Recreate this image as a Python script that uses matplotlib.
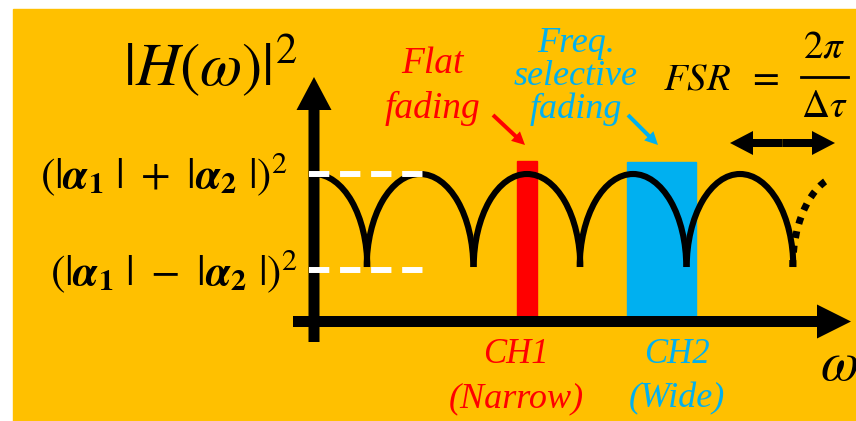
#Sketch of the two-path channel |H(w)|^2 with flat / freq. selective fading
import matplotlib.pyplot as plt
from matplotlib.patches import Rectangle, Arc, FancyArrow

plt.rcParams['mathtext.fontset'] = 'stix'

#Colours
ORANGE = '#FFC000'
RED = '#FF0000'
BLUE = '#00B0F0'

#Curve data (pixel units of the picture)
arch_centers = [420, 527, 633, 740]   # full arches of |H|^2
arch_period = 106.6
arch_base = 267                       # level of the notches, (|a1|-|a2|)^2
arch_height = 93                      # notch -> peak, (|a1|+|a2|)^2
first_center = 314                    # half arch leaving the y axis
dotted_center = 846                   # arch that goes on past the picture
level_max = 174
level_min = 270

#Channels
ch_names = ['CH1', 'CH2']
ch_notes = ['(Narrow)', '(Wide)']
ch_left = [517, 627]
ch_right = [537, 696]
ch_top = [161, 162]
ch_text_x = [516, 677]
ch_colors = [RED, BLUE]

#Labels
red_lines = ['Flat', 'fading']
red_base = [73, 118]
blue_lines = ['Freq.', 'selective', 'fading']
blue_base = [52, 85, 118]

fig = plt.figure(figsize=(8.56, 4.21), dpi=100)
ax = fig.add_axes([0, 0, 1, 1])
ax.set_xlim(0, 856)
ax.set_ylim(421, 0)
ax.axis('off')

ax.add_patch(Rectangle((13, 9), 843, 412, color=ORANGE, zorder=0))

#Channel bars
for l, r, t, c in zip(ch_left, ch_right, ch_top, ch_colors):
    ax.add_patch(Rectangle((l, t), r - l, 321 - t, color=c, zorder=1))

#Arches
lw_curve = 4.4
for c in arch_centers:
    ax.add_patch(Arc((c, arch_base), arch_period, 2 * arch_height, theta1=180, theta2=360,
                     lw=lw_curve, color='k', zorder=2))
ax.add_patch(Arc((first_center, arch_base), arch_period, 2 * arch_height, theta1=270, theta2=360,
                 lw=lw_curve, color='k', zorder=2))
ax.add_patch(Arc((dotted_center, arch_base), arch_period, 2 * arch_height, theta1=180, theta2=260,
                 lw=5, color='k', linestyle=(0, (1, 1.1)), zorder=2))

#Axes arrows
ax.add_patch(FancyArrow(314, 342, 0, 77 - 342, width=11, head_width=35, head_length=33,
                        length_includes_head=True, color='k', lw=0, zorder=3))
ax.add_patch(FancyArrow(293, 321.5, 851 - 293, 0, width=11, head_width=34, head_length=34,
                        length_includes_head=True, color='k', lw=0, zorder=3))

#White dashed levels
for yl in [level_max, level_min]:
    ax.plot([309, 430], [yl, yl], color='white', lw=4.3, linestyle=(0, (3.4, 1.8)), zorder=4)

#Level labels
ax.text(288, 188, r'$(|\mathbfit{\alpha}_{\mathbf{1}}\ |\ +\ |\mathbfit{\alpha}_{\mathbf{2}}\ |)^2$',
        fontsize=31, ha='right', va='baseline')
ax.text(298, 285, r'$(|\mathbfit{\alpha}_{\mathbf{1}}\ |\ -\ |\mathbfit{\alpha}_{\mathbf{2}}\ |)^2$',
        fontsize=31, ha='right', va='baseline')

#Axis labels
ax.text(123, 85, r'$|H(\omega)|^2$', fontsize=44, ha='left', va='baseline')
ax.text(820, 380, r'$\omega$', fontsize=40, ha='left', va='baseline')

#FSR = 2pi / dtau
ax.text(663, 90, r'$FSR$', fontsize=28, ha='left', va='baseline')
ax.text(763, 88, r'$=$', fontsize=28, ha='center', va='baseline')
ax.text(824, 57, r'$2\pi$', fontsize=28, ha='center', va='baseline')
ax.text(824, 117, r'$\Delta\tau$', fontsize=28, ha='center', va='baseline')
ax.plot([801, 848], [77, 77], color='k', lw=2)
ax.add_patch(FancyArrow(782.5, 143, 835 - 782.5, 0, width=8, head_width=24, head_length=23,
                        length_includes_head=True, color='k', lw=0))
ax.add_patch(FancyArrow(782.5, 143, 730 - 782.5, 0, width=8, head_width=24, head_length=23,
                        length_includes_head=True, color='k', lw=0))

#Fading labels
for s, yb in zip(red_lines, red_base):
    ax.text(432, yb, s, fontsize=27, color=RED, family='Liberation Serif', style='italic',
            ha='center', va='baseline')
for s, yb in zip(blue_lines, blue_base):
    ax.text(576, yb, s, fontsize=26, color=BLUE, family='Liberation Serif', style='italic',
            ha='center', va='baseline')
ax.add_patch(FancyArrow(493, 115, 525 - 493, 145 - 115, width=4, head_width=13, head_length=13,
                        length_includes_head=True, color=RED, lw=0))
ax.add_patch(FancyArrow(628, 115, 658 - 628, 145 - 115, width=4, head_width=13, head_length=13,
                        length_includes_head=True, color=BLUE, lw=0))

#Channel labels
for n, note, xt, c in zip(ch_names, ch_notes, ch_text_x, ch_colors):
    ax.text(xt, 363, n, fontsize=25, color=c, family='Liberation Serif', style='italic',
            ha='center', va='baseline')
    ax.text(xt, 407, note, fontsize=26, color=c, family='Liberation Serif', style='italic',
            ha='center', va='baseline')

plt.savefig('out.png', dpi=100, facecolor='white')
